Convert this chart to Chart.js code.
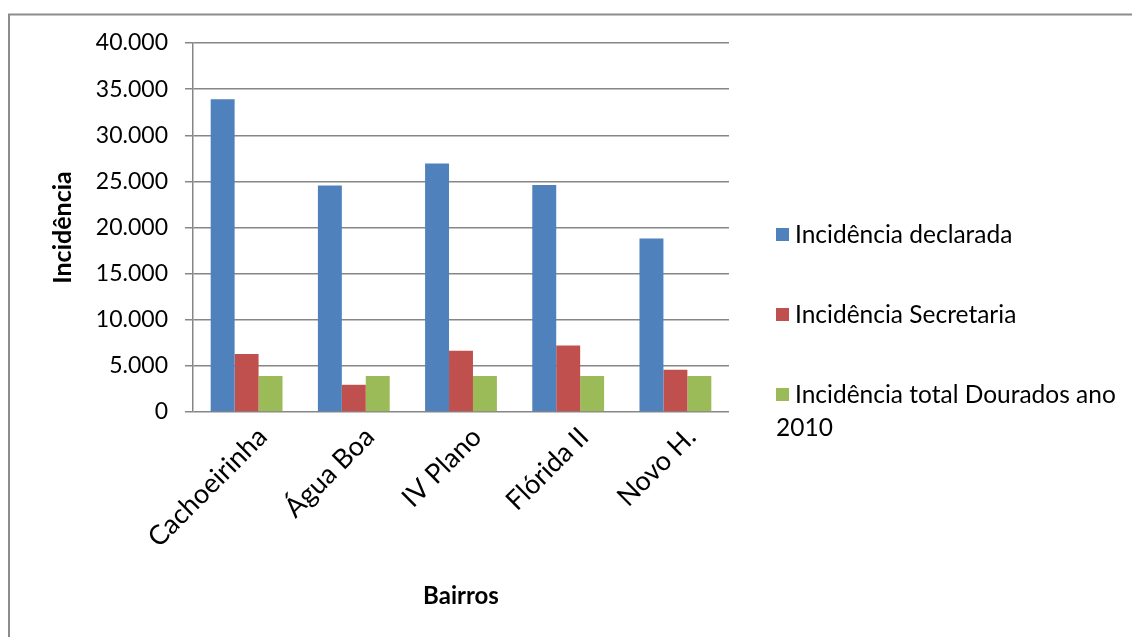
<!DOCTYPE html>
<html>
<head>
<meta charset="utf-8">
<script src="https://cdn.jsdelivr.net/npm/chart.js@4"></script>
<style>
  html, body { margin: 0; padding: 0; background: #fff; }
  #wrap { width: 1132px; height: 637px; position: relative; }
</style>
</head>
<body>
<div id="wrap"><canvas id="chart"></canvas></div>
<script>
const bairros = ["Cachoeirinha", "Água Boa", "IV Plano", "Flórida II", "Novo H."];
const declarada = [33900, 24550, 26950, 24600, 18800];
const secretaria = [6300, 2950, 6630, 7200, 4570];
const totalDourados = [3910, 3910, 3910, 3910, 3910];
const yTicks = [0, 5000, 10000, 15000, 20000, 25000, 30000, 35000, 40000];

const seriesNames = ["Incidência declarada", "Incidência Secretaria", ["Incidência total Dourados ano", "2010"]];
const colors = ["#4F81BD", "#C0504D", "#9BBB59"];

const font = "Lato, 'Open Sans', sans-serif";

// frame around the chart + legend drawn on the canvas
const framePlugin = {
  id: "frame",
  beforeDraw(chart) {
    const ctx = chart.ctx;
    ctx.save();
    ctx.strokeStyle = "#8c8c8c";
    ctx.lineWidth = 2;
    ctx.strokeRect(9, 14.5, 1140, 640);
    ctx.restore();
  },
  afterDraw(chart) {
    const ctx = chart.ctx;
    const x0 = chart.chartArea.right + 47;
    const rows = [234, 314, 394];
    ctx.save();
    ctx.font = "24.5px " + font;
    ctx.textBaseline = "middle";
    chart.data.datasets.forEach((ds, i) => {
      ctx.fillStyle = ds.backgroundColor;
      ctx.fillRect(x0, rows[i] - 6, 13, 13);
      ctx.fillStyle = "#000";
      const lines = Array.isArray(ds.label) ? ds.label : [ds.label];
      lines.forEach((t, j) => {
        ctx.fillText(t, j === 0 ? x0 + 19 : x0, rows[i] + 1 + j * 33);
      });
    });
    ctx.restore();
  }
};

new Chart(document.getElementById("chart"), {
  type: "bar",
  data: {
    labels: bairros,
    datasets: [
      { label: seriesNames[0], data: declarada, backgroundColor: colors[0] },
      { label: seriesNames[1], data: secretaria, backgroundColor: colors[1] },
      { label: seriesNames[2], data: totalDourados, backgroundColor: colors[2] },
    ],
  },
  options: {
    responsive: true,
    maintainAspectRatio: false,
    animation: false,
    layout: { padding: { top: 43, right: 403, left: 0, bottom: 0 } },
    datasets: { bar: { categoryPercentage: 0.67, barPercentage: 1 } },
    plugins: {
      legend: { display: false },
      tooltip: { enabled: false },
    },
    scales: {
      x: {
        grid: { display: false },
        border: { display: false },
        ticks: {
          color: "#000",
          font: { family: font, size: 27 },
          minRotation: 45,
          maxRotation: 45,
          padding: 1,
          labelOffset: 16,
        },
        title: {
          display: true,
          text: "Bairros",
          color: "#000",
          font: { family: font, size: 24, weight: "bold" },
          padding: { top: 0, bottom: 26 },
        },
        afterFit(scale) { scale.height = 637 - 412; },
      },
      y: {
        min: 0,
        max: 40000,
        afterBuildTicks(scale) { scale.ticks = yTicks.map(v => ({ value: v })); },
        grid: { color: "#868686", lineWidth: 1.5, tickLength: 8, drawTicks: true },
        border: { display: true, color: "#868686", width: 1.5 },
        ticks: {
          color: "#000",
          font: { family: font, size: 23 },
          padding: 17,
          callback: v => v === 0 ? "0" : v.toLocaleString("pt-BR"),
        },
        title: {
          display: true,
          text: "Incidência",
          color: "#000",
          font: { family: font, size: 25, weight: "bold" },
          padding: { top: 48, bottom: 0 },
        },
        afterFit(scale) { scale.width = 193; },
      },
    },
  },
  plugins: [framePlugin],
});
</script>
</body>
</html>
